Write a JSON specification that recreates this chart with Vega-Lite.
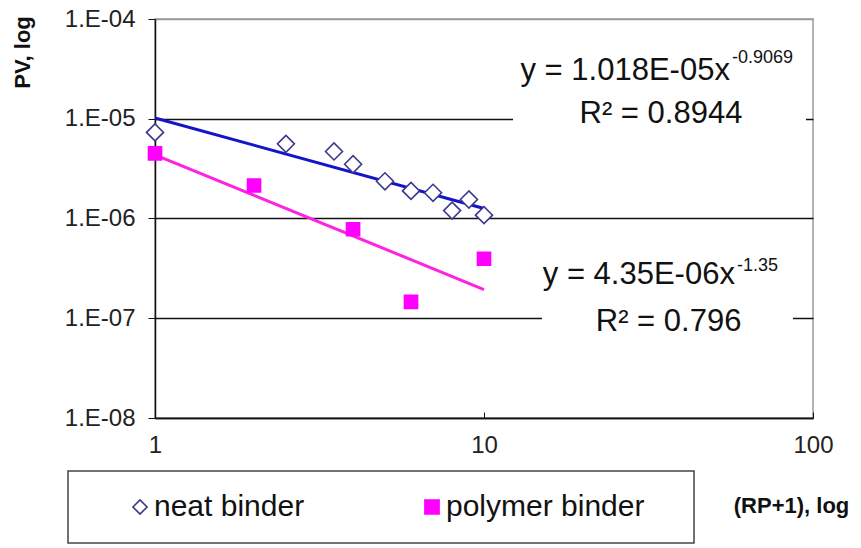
{
  "$schema": "https://vega.github.io/schema/vega-lite/v6.json",
  "width": 658,
  "height": 399,
  "autosize": "none",
  "padding": {"left": 155, "top": 19, "right": 48, "bottom": 130},
  "background": "white",
  "config": {
    "font": "Liberation Sans",
    "view": {"stroke": "#9a9a9a", "strokeWidth": 1.5},
    "axis": {"labelFont": "Liberation Sans", "titleFont": "Liberation Sans", "labelColor": "#222", "titleColor": "#111", "domainColor": "#111", "domainWidth": 1.5, "tickColor": "#111"},
    "legend": {
      "orient": "none", "legendX": -87, "legendY": 452, "direction": "horizontal",
      "padding": 21, "strokeColor": "#444", "fillColor": "white", "strokeWidth": 1.5,
      "labelFont": "Liberation Sans", "labelFontSize": 30, "labelColor": "#111", "labelLimit": 400,
      "symbolSize": 200, "symbolStrokeWidth": 1.6, "symbolOffset": 36, "labelOffset": -1,
      "columnPadding": 76, "cornerRadius": 0,
      "titleOrient": "right", "titleColor": "white", "titleFontSize": 8, "titlePadding": 26
    }
  },
  "datasets": {
    "pts": [
      {"series": "neat binder", "x": 1, "y": 7.3e-6},
      {"series": "neat binder", "x": 2.5, "y": 5.6e-6},
      {"series": "neat binder", "x": 3.5, "y": 4.7e-6},
      {"series": "neat binder", "x": 4, "y": 3.5e-6},
      {"series": "neat binder", "x": 5, "y": 2.36e-6},
      {"series": "neat binder", "x": 6, "y": 1.89e-6},
      {"series": "neat binder", "x": 7, "y": 1.81e-6},
      {"series": "neat binder", "x": 8, "y": 1.2e-6},
      {"series": "neat binder", "x": 9, "y": 1.55e-6},
      {"series": "neat binder", "x": 10, "y": 1.08e-6},
      {"series": "polymer binder", "x": 1, "y": 4.5e-6},
      {"series": "polymer binder", "x": 2, "y": 2.14e-6},
      {"series": "polymer binder", "x": 4, "y": 7.8e-7},
      {"series": "polymer binder", "x": 6, "y": 1.46e-7},
      {"series": "polymer binder", "x": 10, "y": 3.95e-7}
    ],
    "trend": [
      {"series": "neat binder", "x": 1, "y": 1.018e-5},
      {"series": "neat binder", "x": 10, "y": 1.26e-6},
      {"series": "polymer binder", "x": 1, "y": 4.35e-6},
      {"series": "polymer binder", "x": 10, "y": 1.94e-7}
    ],
    "boxes": [
      {"x": 12.25, "x2": 95.2, "y": 5.5e-5, "y2": 6.9e-6},
      {"x": 15.0, "x2": 86.9, "y": 3.9e-7, "y2": 6.2e-8}
    ],
    "labels": [
      {"kind": "main", "x": 55.9, "y": 2.455e-5, "text": "y = 1.018E-05x"},
      {"kind": "exp", "x": 56.7, "y": 3.63e-5, "text": "-0.9069"},
      {"kind": "r2", "x": 34.5, "y": 9.12e-6, "text": "R² = 0.8944"},
      {"kind": "main", "x": 57.9, "y": 2.188e-7, "text": "y = 4.35E-06x"},
      {"kind": "exp", "x": 58.75, "y": 2.95e-7, "text": "-1.35"},
      {"kind": "r2", "x": 36.4, "y": 7.41e-8, "text": "R² = 0.796"}
    ]
  },
  "layer": [
    {
      "data": {"name": "boxes"},
      "mark": {"type": "rect", "fill": "white", "stroke": null},
      "encoding": {
        "x": {"field": "x", "type": "quantitative", "scale": {"type": "log", "domain": [1, 100]},
          "axis": {"values": [1, 10, 100], "grid": false, "title": "(RP+1), log", "titleFontSize": 22, "titleFontWeight": "bold", "titleX": 636, "titleY": 87, "titleAlign": "center", "titleBaseline": "middle", "labelFontSize": 24, "tickSize": -6, "labelPadding": 21, "labelFlush": false}},
        "x2": {"field": "x2"},
        "y": {"field": "y", "type": "quantitative", "scale": {"type": "log", "domain": [1e-8, 1e-4]},
          "axis": {"values": [1e-8, 1e-7, 1e-6, 1e-5, 1e-4], "labelExpr": "'1.E-0' + round(-log(datum.value)/LN10)", "grid": true, "gridColor": {"condition": {"test": "datum.value > 5e-5", "value": "#9a9a9a"}, "value": "#111"}, "gridWidth": 1.3, "title": "PV, log", "titleFontSize": 22, "titleFontWeight": "bold", "titleX": -133, "titleY": 33, "titleAlign": "center", "titleBaseline": "middle", "titleAngle": -90, "labelFontSize": 24, "tickSize": 7, "labelPadding": 13, "labelFlush": false}},
        "y2": {"field": "y2"}
      }
    },
    {
      "data": {"name": "trend"},
      "transform": [{"filter": "datum.series === 'neat binder'"}],
      "mark": {"type": "line", "stroke": "#1414c8", "strokeWidth": 3},
      "encoding": {"x": {"field": "x", "type": "quantitative"}, "y": {"field": "y", "type": "quantitative"}}
    },
    {
      "data": {"name": "trend"},
      "transform": [{"filter": "datum.series === 'polymer binder'"}],
      "mark": {"type": "line", "stroke": "#ff22e0", "strokeWidth": 3},
      "encoding": {"x": {"field": "x", "type": "quantitative"}, "y": {"field": "y", "type": "quantitative"}}
    },
    {
      "data": {"name": "pts"},
      "mark": {"type": "point", "opacity": 1, "strokeWidth": 1.6},
      "encoding": {
        "x": {"field": "x", "type": "quantitative"},
        "y": {"field": "y", "type": "quantitative"},
        "shape": {"field": "series", "type": "nominal", "scale": {"domain": ["neat binder", "polymer binder"], "range": ["diamond", "square"]}, "legend": {"title": "."}},
        "fill": {"field": "series", "type": "nominal", "scale": {"domain": ["neat binder", "polymer binder"], "range": ["white", "#ff00ff"]}, "legend": {"title": "."}},
        "stroke": {"field": "series", "type": "nominal", "scale": {"domain": ["neat binder", "polymer binder"], "range": ["#3a3a8c", "#ff00ff"]}, "legend": {"title": "."}},
        "size": {"condition": {"test": "datum.series === 'neat binder'", "value": 290}, "value": 170}
      }
    },
    {
      "data": {"name": "labels"},
      "transform": [{"filter": "datum.kind === 'main'"}],
      "mark": {"type": "text", "align": "right", "baseline": "alphabetic", "fontSize": 31, "font": "Liberation Sans", "color": "#111"},
      "encoding": {"x": {"field": "x", "type": "quantitative"}, "y": {"field": "y", "type": "quantitative"}, "text": {"field": "text"}}
    },
    {
      "data": {"name": "labels"},
      "transform": [{"filter": "datum.kind === 'exp'"}],
      "mark": {"type": "text", "align": "left", "baseline": "alphabetic", "fontSize": 18, "font": "Liberation Sans", "color": "#111"},
      "encoding": {"x": {"field": "x", "type": "quantitative"}, "y": {"field": "y", "type": "quantitative"}, "text": {"field": "text"}}
    },
    {
      "data": {"name": "labels"},
      "transform": [{"filter": "datum.kind === 'r2'"}],
      "mark": {"type": "text", "align": "center", "baseline": "alphabetic", "fontSize": 31, "font": "Liberation Sans", "color": "#111"},
      "encoding": {"x": {"field": "x", "type": "quantitative"}, "y": {"field": "y", "type": "quantitative"}, "text": {"field": "text"}}
    }
  ]
}
